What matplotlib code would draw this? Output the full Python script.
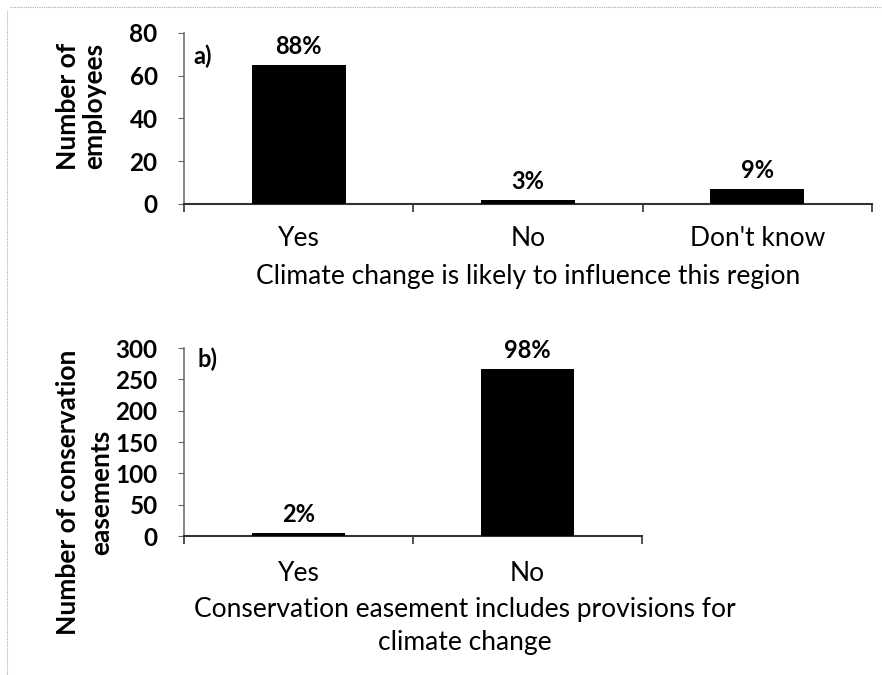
import matplotlib.pyplot as plt
from matplotlib.lines import Line2D

# panel a: employees
cats_a = ['Yes', 'No', "Don't know"]
vals_a = [65, 2, 7]
pct_a = ['88%', '3%', '9%']
xlabel_a = 'Climate change is likely to influence this region'
ylabel_a = 'Number of\nemployees'

# panel b: conservation easements
cats_b = ['Yes', 'No']
vals_b = [5, 266]
pct_b = ['2%', '98%']
xlabel_b = ['Conservation easement includes provisions for', 'climate change']
ylabel_b = 'Number of conservation\neasements'

plt.rcParams['font.family'] = ['Lato', 'DejaVu Sans']

W, H = 882, 675
fig = plt.figure(figsize=(W / 100, H / 100), dpi=100)


def px_axes(left, right, top, bottom):
    """Add axes from pixel edges of the 882x675 canvas"""
    return fig.add_axes([left / W, 1 - bottom / H, (right - left) / W, (bottom - top) / H])


def draw_panel(ax, cats, vals, pcts, ymax, step, tag, tag_x, tag_y, xpad):
    x = list(range(len(cats)))
    ax.bar(x, vals, width=0.41, color='black', zorder=3)
    ax.set_xlim(-0.5, len(cats) - 0.5)
    ax.set_ylim(0, ymax)
    ax.set_yticks(list(range(0, ymax + 1, step)))
    ax.set_xticks(x)
    ax.set_xticklabels(cats, fontsize=19)
    ax.set_xticks([i - 0.5 for i in range(len(cats) + 1)], minor=True)
    ax.tick_params(axis='x', which='major', length=0, pad=xpad)
    ax.tick_params(axis='x', which='minor', length=6, width=1.2, color='#333')
    ax.tick_params(axis='y', length=4, width=0.8, pad=15, labelsize=17.5, color='#666')
    for lab in ax.get_yticklabels():
        lab.set_fontweight('bold')
    for s in ['top', 'right']:
        ax.spines[s].set_visible(False)
    ax.spines['left'].set_color('#666')
    ax.spines['left'].set_linewidth(1.1)
    ax.spines['bottom'].set_color('#333')
    ax.spines['bottom'].set_linewidth(1.5)
    for xi, v, p in zip(x, vals, pcts):
        ax.annotate(p, (xi, v), xytext=(0, 8), textcoords='offset points',
                    ha='center', va='baseline', fontsize=17, fontweight='bold')
    ax.text(tag_x, tag_y, tag, transform=ax.transAxes,
            ha='left', va='top', fontsize=17, fontweight='bold')


ax_a = px_axes(184, 872, 33, 204)
draw_panel(ax_a, cats_a, vals_a, pct_a, 80, 20, 'a)', 0.013, 0.93, 16)

ax_b = px_axes(184, 642, 348, 536)
draw_panel(ax_b, cats_b, vals_b, pct_b, 300, 50, 'b)', 0.03, 1.0, 18)

# axis titles
fig.text(528 / W, 1 - 284 / H, xlabel_a, ha='center', va='baseline', fontsize=19)
fig.text(465 / W, 1 - 617 / H, xlabel_b[0], ha='center', va='baseline', fontsize=19)
fig.text(465 / W, 1 - 650 / H, xlabel_b[1], ha='center', va='baseline', fontsize=19)

fig.text(81 / W, 1 - 106 / H, ylabel_a, rotation=90, ha='center', va='center',
         fontsize=19, fontweight='bold', linespacing=1.1, multialignment='center')
fig.text(85 / W, 1 - 492 / H, ylabel_b, rotation=90, ha='center', va='center',
         fontsize=19, fontweight='bold', linespacing=1.45, multialignment='center')

# faint scan border on top and left
fig.add_artist(Line2D([10 / W, 1], [1 - 7 / H, 1 - 7 / H], transform=fig.transFigure,
                      color='#aaa', lw=0.8, linestyle=(0, (1, 1))))
fig.add_artist(Line2D([7 / W, 7 / W], [0, 1 - 10 / H], transform=fig.transFigure,
                      color='#aaa', lw=0.8, linestyle=(0, (1, 1))))

fig.savefig('out.png', dpi=100)
